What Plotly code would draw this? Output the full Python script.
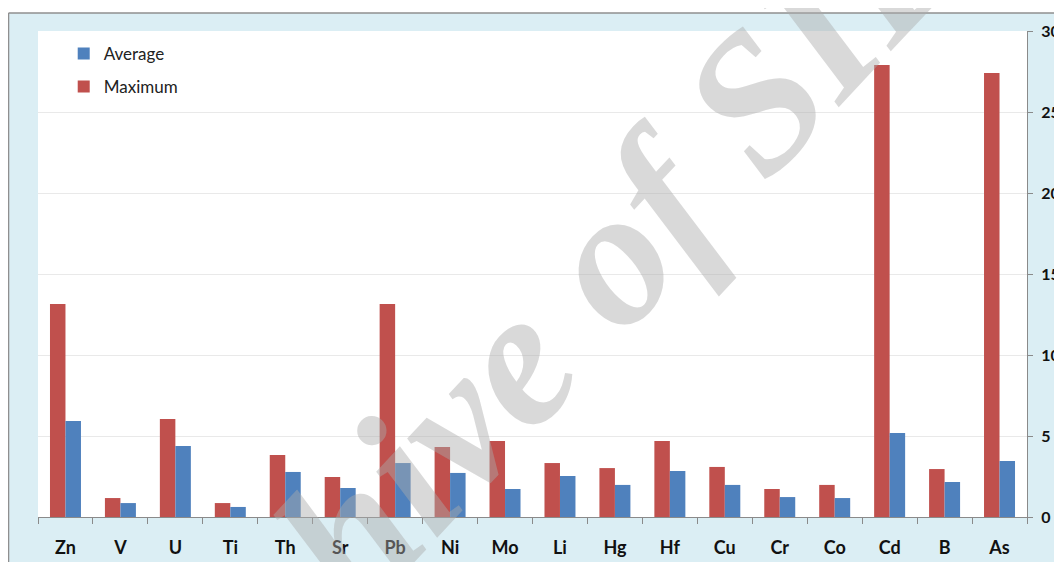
import plotly.graph_objects as go

categories = ["Zn", "V", "U", "Ti", "Th", "Sr", "Pb", "Ni", "Mo", "Li", "Hg", "Hf", "Cu", "Cr", "Co", "Cd", "B", "As"]
maximum = [13.15, 1.17, 6.05, 0.86, 3.83, 2.47, 13.15, 4.32, 4.69, 3.33, 3.02, 4.69, 3.09, 1.73, 1.98, 27.9, 2.96, 27.4]
average = [5.93, 0.86, 4.38, 0.62, 2.78, 1.79, 3.33, 2.72, 1.73, 2.53, 1.98, 2.84, 1.98, 1.23, 1.17, 5.19, 2.16, 3.46]
y_ticks = [0, 5, 10, 15, 20, 25, 30]
watermark = "Archive of SID"

RED = "#C0504D"
BLUE = "#4F81BD"
BG = "#DBEEF4"

fig = go.Figure()
fig.add_trace(go.Bar(x=categories, y=maximum, name="Maximum", marker_color=RED,
                     marker_line_width=0, legendrank=2, legendgroup="m"))
fig.add_trace(go.Bar(x=categories, y=average, name="Average", marker_color=BLUE,
                     marker_line_width=0, legendrank=1, legendgroup="a"))

fig.update_layout(
    width=1054, height=554,
    margin=dict(l=30, r=35, t=23, b=45, autoexpand=False),
    paper_bgcolor=BG,
    plot_bgcolor="white",
    barmode="group",
    bargap=0.436,
    bargroupgap=0,
    showlegend=True,
    legend=dict(x=0.026, y=0.99, xanchor="left", yanchor="top",
                bgcolor="rgba(0,0,0,0)", font=dict(family="Lato", size=17, color="#222"),
                tracegroupgap=8, itemwidth=30),
    xaxis=dict(
        type="category", showgrid=False, showline=True, linecolor="#8a8a8a", linewidth=1.2,
        ticks="outside", tickson="boundaries", ticklen=6, tickcolor="#8a8a8a",
        tickfont=dict(family="Lato", size=18, color="#111", weight="bold"),
        ticklabelstandoff=14,
    ),
    yaxis=dict(
        side="right", range=[0, 30], tickvals=y_ticks, showline=True, linecolor="#8a8a8a",
        linewidth=1.2, ticks="outside", ticklen=5, tickcolor="#8a8a8a",
        showgrid=True, gridcolor="#e9e9e9", gridwidth=1, zeroline=False,
        tickfont=dict(family="Lato", size=16, color="#111", weight="bold"),
        ticklabelstandoff=5,
    ),
    font=dict(family="Lato"),
)

# White strip above the light-blue frame, and the frame border lines
fig.add_shape(type="rect", xref="paper", yref="paper", x0=-0.1, x1=1.1, y0=1.037, y1=1.1,
              fillcolor="white", line_width=0, layer="above")
fig.add_shape(type="line", xref="paper", yref="paper", x0=-0.0298, x1=1.1, y0=1.037, y1=1.037,
              line=dict(color="#8f8f8f", width=1.5), layer="above")
fig.add_shape(type="line", xref="paper", yref="paper", x0=-0.0298, x1=-0.0298, y0=-0.2, y1=1.037,
              line=dict(color="#8f8f8f", width=1.5), layer="above")

fig.add_annotation(text=watermark, xref="paper", yref="paper", x=0.4894, y=0.3436,
                   xanchor="center", yanchor="middle",
                   showarrow=False, textangle=-47,
                   font=dict(family="Liberation Serif", size=195, color="rgba(170,170,170,0.45)",
                             weight="bold", style="italic"))

fig.write_html("out.html")
